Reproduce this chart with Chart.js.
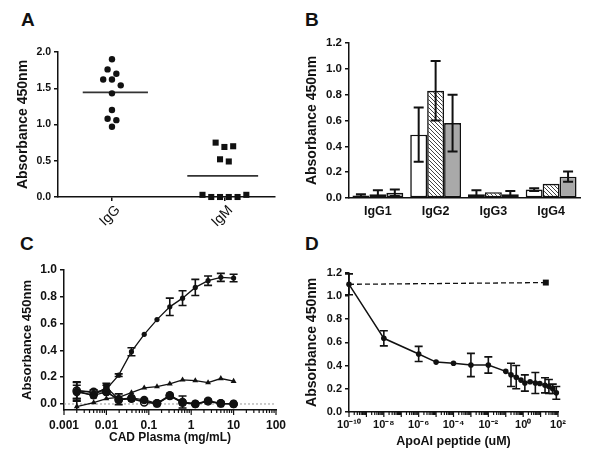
<!DOCTYPE html>
<html>
<head>
<meta charset="utf-8">
<script src="https://cdn.jsdelivr.net/npm/chart.js@4.4.1/dist/chart.umd.min.js"></script>
<style>
  body { margin: 0; background: #fff; width: 600px; height: 459px; position: relative; overflow: hidden; font-family: "Liberation Sans", Arial, sans-serif; }
  canvas { position: absolute; }
  .letter { position: absolute; font-weight: bold; font-size: 19px; color: #111; }
</style>
</head>
<body>
<div class="letter" style="left:21px;top:9px">A</div>
<div class="letter" style="left:305px;top:9px">B</div>
<div class="letter" style="left:20px;top:233px">C</div>
<div class="letter" style="left:305px;top:233px">D</div>

<canvas id="chartA" width="290" height="190" style="left:0;top:40px"></canvas>
<canvas id="chartB" width="305" height="200" style="left:295px;top:30px"></canvas>
<canvas id="chartC" width="295" height="204" style="left:0;top:255px"></canvas>
<canvas id="chartD" width="305" height="204" style="left:295px;top:255px"></canvas>

<script>
// Panel A: puntos individuales
const categoriesA = ['IgG', 'IgM'];
const igG = [1.90, 1.76, 1.70, 1.62, 1.62, 1.54, 1.43, 1.20, 1.08, 1.06, 0.97];
const igM = [0.75, 0.69, 0.70, 0.52, 0.49, 0.03, 0, 0, 0, 0, 0.03];
const yTicksA = [0, 0.5, 1.0, 1.5, 2.0];

// Panel B: subclases
const subclasses = ['IgG1', 'IgG2', 'IgG3', 'IgG4'];
const barsWhite = [0.02, 0.49, 0.03, 0.065];
const barsWhiteErr = [0.01, 0.21, 0.03, 0.01];
const barsHatch = [0.03, 0.83, 0.045, 0.11];
const barsHatchErr = [0.03, 0.23, 0, 0];
const barsGray = [0.04, 0.58, 0.03, 0.165];
const barsGrayErr = [0.025, 0.22, 0.025, 0.04];
const yTicksB = [0, 0.2, 0.4, 0.6, 0.8, 1.0, 1.2];

// Panel C: diluciones de plasma
const xC = [0.002, 0.005, 0.01, 0.0195, 0.039, 0.078, 0.156, 0.3125, 0.625, 1.25, 2.5, 5, 10];
const mainC = [0.10, 0.085, 0.11, 0.215, 0.39, 0.52, 0.63, 0.725, 0.79, 0.87, 0.92, 0.945, 0.94];
const mainCErr = [0.06, 0.02, 0.03, 0.01, 0.03, 0, 0, 0.065, 0.055, 0.06, 0.035, 0.03, 0.028];
const triC = [-0.02, 0.01, 0.04, 0.05, 0.085, 0.12, 0.13, 0.15, 0.18, 0.175, 0.16, 0.19, 0.17];
const triCErr = [0.04, 0, 0, 0, 0, 0, 0, 0, 0, 0, 0, 0, 0];
const bigC = [0.09, 0.065, 0.09, 0.035, 0.045, 0.03, 0.005, 0.065, 0.015, 0.0, 0.025, 0.005, 0.0];
const bigCErr = [0.05, 0, 0, 0, 0, 0, 0, 0, 0.045, 0, 0, 0, 0];
const openC = [0.10, 0.09, 0.09, 0.03, 0.04, 0.012, 0.005, 0.06, 0.01, 0.0, 0.02, 0.005, 0.0];
const sqC = [0.095, 0.065, 0.125, 0.035, 0.04, 0.02, 0.0, 0.06, 0.01, 0.0, 0.02, 0.0, 0.0];
const sqCErr = [0.07, 0, 0.03, 0.04, 0, 0, 0, 0, 0, 0, 0, 0, 0];
const xLabelsC = [0.001, 0.01, 0.1, 1, 10, 100];
const yTicksC = [0, 0.2, 0.4, 0.6, 0.8, 1.0];

// Panel D: competencia con péptido
const xD = [1e-10, 1e-8, 1e-6, 1e-5, 1e-4, 1e-3, 1e-2, 0.1, 0.2, 0.4, 0.75, 1.25, 2.5, 5, 9, 18, 30, 50, 80];
const yD = [1.10, 0.635, 0.50, 0.43, 0.42, 0.405, 0.405, 0.35, 0.32, 0.30, 0.275, 0.25, 0.26, 0.25, 0.245, 0.23, 0.22, 0.20, 0.165];
const errD = [0.09, 0.065, 0.065, 0, 0, 0.1, 0.07, 0, 0.1, 0.1, 0, 0.07, 0, 0.09, 0, 0.065, 0.06, 0.04, 0.055];
const ctrlX = [1e-10, 20];
const ctrlY = [1.10, 1.115];
const xExpD = [-10, -8, -6, -4, -2, 0, 2];
const yTicksD = [0, 0.2, 0.4, 0.6, 0.8, 1.0, 1.2];

const INK = '#111';
Chart.defaults.font.family = '"Liberation Sans", Arial, sans-serif';
Chart.defaults.color = INK;
Chart.defaults.animation = false;
Chart.defaults.plugins.legend.display = false;
Chart.defaults.plugins.tooltip.enabled = false;

// Barras de error: se dibujan con las escalas del gráfico
const errBars = {
  id: 'errbars',
  beforeDatasetDraw(chart, args, opts) { if (!opts.onTop) drawErr(chart, args.index, opts); },
  afterDatasetDraw(chart, args, opts) { if (opts.onTop) drawErr(chart, args.index, opts); }
};
function drawErr(chart, index, opts) {
  const ds = chart.data.datasets[index];
  if (!ds.errors) return;
  const meta = chart.getDatasetMeta(index);
  const ys = chart.scales.y, ctx = chart.ctx, area = chart.chartArea;
  const cap = opts.cap || 4;
  ctx.save();
  ctx.beginPath();
  ctx.rect(area.left - 10, area.top - 10, area.right - area.left + 20, area.bottom - area.top + 10);
  ctx.clip();
  ctx.strokeStyle = INK;
  ctx.lineWidth = opts.width || 1.5;
  ds.errors.forEach((e, i) => {
    if (!e) return;
    const v = typeof ds.data[i] === 'object' ? ds.data[i].y : ds.data[i];
    const x = meta.data[i].x;
    const top = ys.getPixelForValue(v + e);
    const bot = ys.getPixelForValue(v - e);
    ctx.beginPath();
    ctx.moveTo(x, top); ctx.lineTo(x, bot);
    ctx.moveTo(x - cap, top); ctx.lineTo(x + cap, top);
    ctx.moveTo(x - cap, bot); ctx.lineTo(x + cap, bot);
    ctx.stroke();
  });
  ctx.restore();
}

// Marcas menores y mayores en los ejes logarítmicos
const logTicks = {
  id: 'logTicks',
  afterDraw(chart) {
    const s = chart.scales.x, ctx = chart.ctx;
    ctx.save();
    ctx.strokeStyle = INK;
    ctx.lineWidth = 1.2;
    s.ticks.forEach(t => {
      const x = s.getPixelForValue(t.value);
      const len = isDecade(t.value) ? 5 : 3;
      ctx.beginPath();
      ctx.moveTo(x, s.top);
      ctx.lineTo(x, s.top + len);
      ctx.stroke();
    });
    ctx.restore();
  }
};

// Línea punteada en y = 0 (panel C)
const zeroLine = {
  id: 'zeroLine',
  beforeDatasetsDraw(chart) {
    const y = chart.scales.y.getPixelForValue(0), a = chart.chartArea, ctx = chart.ctx;
    ctx.save();
    ctx.strokeStyle = '#999';
    ctx.lineWidth = 1;
    ctx.setLineDash([2, 2]);
    ctx.beginPath();
    ctx.moveTo(a.left, y);
    ctx.lineTo(a.right, y);
    ctx.stroke();
    ctx.restore();
  }
};

function isDecade(v) {
  const l = Math.log10(v);
  return Math.abs(l - Math.round(l)) < 1e-6;
}
function logTickList(minExp, maxExp) {
  const out = [];
  for (let e = minExp; e < maxExp; e++) {
    for (let k = 1; k <= 9; k++) out.push({ value: k * Math.pow(10, e) });
  }
  out.push({ value: Math.pow(10, maxExp) });
  return out;
}
const sup = { '-': '⁻', '0': '⁰', '1': '¹', '2': '²', '3': '³', '4': '⁴', '5': '⁵', '6': '⁶', '7': '⁷', '8': '⁸', '9': '⁹' };
const pow10 = e => '10' + String(e).split('').map(c => sup[c]).join('');

// Reparte horizontalmente los puntos con valores parecidos (como Prism)
function swarm(values, step, tol) {
  const order = values.map((v, i) => i).sort((a, b) => values[b] - values[a]);
  const offs = new Array(values.length).fill(0);
  let group = [];
  const flush = () => {
    group.sort((a, b) => a - b);
    group.forEach((idx, k) => { offs[idx] = (k - (group.length - 1) / 2) * step; });
    group = [];
  };
  let start = null;
  order.forEach(i => {
    if (start === null || values[i] < start - tol) { if (group.length) flush(); start = values[i]; }
    group.push(i);
  });
  flush();
  return offs;
}
const mean = arr => arr.reduce((a, b) => a + b, 0) / arr.length;

const yAxisBase = (ticks, min, max, width, fontSize, title, titleSize, titlePad) => ({
  min, max,
  afterBuildTicks: s => { s.ticks = ticks.map(v => ({ value: v })); },
  afterFit: s => { s.width = width; },
  grid: { drawOnChartArea: false, drawTicks: true, tickLength: 4, color: INK, lineWidth: 1.5 },
  border: { color: INK, width: 1.5 },
  ticks: { font: { size: fontSize, weight: 'bold' }, padding: 3, callback: v => v.toFixed(1) },
  title: { display: true, text: title, font: { size: titleSize, weight: 'bold' }, padding: { top: titlePad } }
});

// ---- Panel A ----
const offG = swarm(igG, 0.078, 0.1);
const offM = swarm(igM, 0.078, 0.1);
const mG = mean(igG), mM = mean(igM);
new Chart(document.getElementById('chartA'), {
  type: 'scatter',
  data: {
    datasets: [
      { data: igG.map((v, i) => ({ x: 1 + offG[i], y: v })), pointStyle: 'circle', pointRadius: 3.2, backgroundColor: INK, borderWidth: 0, clip: false },
      { data: igM.map((v, i) => ({ x: 2 + offM[i], y: v })), pointStyle: 'rect', pointRadius: 4.3, backgroundColor: INK, borderWidth: 0, clip: false },
      { data: [{ x: 0.74, y: mG }, { x: 1.32, y: mG }], showLine: true, pointRadius: 0, borderColor: '#333', borderWidth: 1.8 },
      { data: [{ x: 1.67, y: mM }, { x: 2.30, y: mM }], showLine: true, pointRadius: 0, borderColor: '#333', borderWidth: 1.8 }
    ]
  },
  options: {
    responsive: false,
    layout: { padding: { top: 12, right: 15, left: 0, bottom: 0 } },
    scales: {
      x: {
        type: 'linear', min: 0.52, max: 2.45,
        afterBuildTicks: s => { s.ticks = categoriesA.map((c, i) => ({ value: i + 1 })); },
        afterFit: s => { s.height = 33; },
        grid: { drawOnChartArea: false, drawTicks: true, tickLength: 4, color: INK, lineWidth: 1.5 },
        border: { color: INK, width: 1.5 },
        ticks: { minRotation: 45, maxRotation: 45, padding: 1, labelOffset: 6, font: { size: 14 }, callback: v => categoriesA[v - 1] }
      },
      y: yAxisBase(yTicksA, 0, 2.0, 58, 10.5, 'Absorbance 450nm', 14, 14.6)
    }
  }
});

// ---- Panel B ----
function hatch() {
  const c = document.createElement('canvas');
  c.width = 4; c.height = 4;
  const g = c.getContext('2d');
  g.fillStyle = '#fff';
  g.fillRect(0, 0, 4, 4);
  g.strokeStyle = '#444';
  g.lineWidth = 1;
  g.beginPath();
  g.moveTo(-1, -1); g.lineTo(5, 5);
  g.moveTo(-1, 3); g.lineTo(1, 5);
  g.moveTo(3, -1); g.lineTo(5, 1);
  g.stroke();
  return g.createPattern(c, 'repeat');
}
const barStyle = { borderColor: INK, borderWidth: 1.6, borderSkipped: false, categoryPercentage: 0.88, barPercentage: 1.0 };
new Chart(document.getElementById('chartB'), {
  type: 'bar',
  data: {
    labels: subclasses,
    datasets: [
      Object.assign({ data: barsWhite, errors: barsWhiteErr, backgroundColor: '#fff' }, barStyle),
      Object.assign({ data: barsHatch, errors: barsHatchErr, backgroundColor: hatch() }, barStyle),
      Object.assign({ data: barsGray, errors: barsGrayErr, backgroundColor: '#a9a9a9' }, barStyle)
    ]
  },
  plugins: [errBars],
  options: {
    responsive: false,
    layout: { padding: { top: 13, right: 20, left: 0, bottom: 0 } },
    plugins: { errbars: { onTop: true, cap: 5, width: 2 } },
    scales: {
      x: {
        afterFit: s => { s.height = 32; },
        grid: { display: false, drawTicks: false },
        border: { color: INK, width: 1.5 },
        ticks: { font: { size: 12.5, weight: 'bold' }, padding: 6 }
      },
      y: yAxisBase(yTicksB, 0, 1.2, 54, 11.5, 'Absorbance 450nm', 14, 9)
    }
  }
});

// ---- Panel C ----
const ptsC = arr => arr.map((v, i) => ({ x: xC[i], y: v }));
const lineC = { borderColor: INK, borderWidth: 1.3, backgroundColor: INK, showLine: true, clip: false };
new Chart(document.getElementById('chartC'), {
  type: 'scatter',
  data: {
    datasets: [
      Object.assign({ data: ptsC(mainC), errors: mainCErr, pointStyle: 'circle', pointRadius: 2.6, pointBorderWidth: 0 }, lineC),
      Object.assign({ data: ptsC(triC), errors: triCErr, pointStyle: 'triangle', pointRadius: 3.4, pointBorderWidth: 0 }, lineC),
      Object.assign({ data: ptsC(bigC), errors: bigCErr, pointStyle: 'circle', pointRadius: 4.2, pointBorderWidth: 0 }, lineC),
      Object.assign({}, lineC, { data: ptsC(openC), pointStyle: 'circle', pointRadius: 3.6, pointBorderWidth: 1.5, backgroundColor: '#fff' }),
      Object.assign({ data: ptsC(sqC), errors: sqCErr, pointStyle: 'rect', pointRadius: 4.6, pointBorderWidth: 0 }, lineC)
    ]
  },
  plugins: [errBars, logTicks, zeroLine],
  options: {
    responsive: false,
    layout: { padding: { top: 15, right: 19, left: 0, bottom: 0 } },
    plugins: { errbars: { onTop: false, cap: 4, width: 1.6 } },
    scales: {
      x: {
        type: 'logarithmic', min: 0.001, max: 100,
        afterBuildTicks: s => { s.ticks = logTickList(-3, 2); },
        afterFit: s => { s.height = 49; },
        grid: { display: false, drawTicks: false },
        border: { color: INK, width: 1.5 },
        ticks: {
          autoSkip: false, maxRotation: 0, padding: 8, font: { size: 12, weight: 'bold' },
          callback: v => { const l = xLabelsC.find(t => Math.abs(t - v) / t < 1e-6); return l === undefined ? '' : String(l); }
        },
        title: { display: true, text: 'CAD Plasma (mg/mL)', font: { size: 12, weight: 'bold' }, padding: { bottom: 14 } }
      },
      y: yAxisBase(yTicksC, -0.045, 1.0, 64, 12, 'Absorbance 450nm', 13, 20)
    }
  }
});

// ---- Panel D ----
new Chart(document.getElementById('chartD'), {
  type: 'scatter',
  data: {
    datasets: [
      { data: yD.map((v, i) => ({ x: xD[i], y: v })), errors: errD, showLine: true, borderColor: INK, borderWidth: 1.5,
        backgroundColor: INK, pointStyle: 'circle', pointRadius: 2.8, pointBorderWidth: 0, clip: false },
      { data: ctrlY.map((v, i) => ({ x: ctrlX[i], y: v })), showLine: true, borderColor: INK, borderWidth: 1.3, borderDash: [5, 3],
        backgroundColor: INK, pointStyle: 'rect', pointRadius: [0, 4.2], pointBorderWidth: 0, clip: false }
    ]
  },
  plugins: [errBars, logTicks],
  options: {
    responsive: false,
    layout: { padding: { top: 17.7, right: 42, left: 0, bottom: 0 } },
    plugins: { errbars: { onTop: false, cap: 4, width: 1.6 } },
    scales: {
      x: {
        type: 'logarithmic', min: 1e-10, max: 100,
        afterBuildTicks: s => { s.ticks = logTickList(-10, 2); },
        afterFit: s => { s.height = 47; },
        grid: { display: false, drawTicks: false },
        border: { color: INK, width: 1.5 },
        ticks: {
          autoSkip: false, maxRotation: 0, padding: 6, font: { size: 11, weight: 'bold' },
          callback: v => { if (!isDecade(v)) return ''; const e = Math.round(Math.log10(v)); return xExpD.includes(e) ? pow10(e) : ''; }
        },
        title: { display: true, text: 'ApoAI peptide (uM)', font: { size: 12.5, weight: 'bold' }, padding: { bottom: 10 } }
      },
      y: yAxisBase(yTicksD, 0, 1.2, 54, 11, 'Absorbance 450nm', 14, 9)
    }
  }
});
</script>
</body>
</html>
